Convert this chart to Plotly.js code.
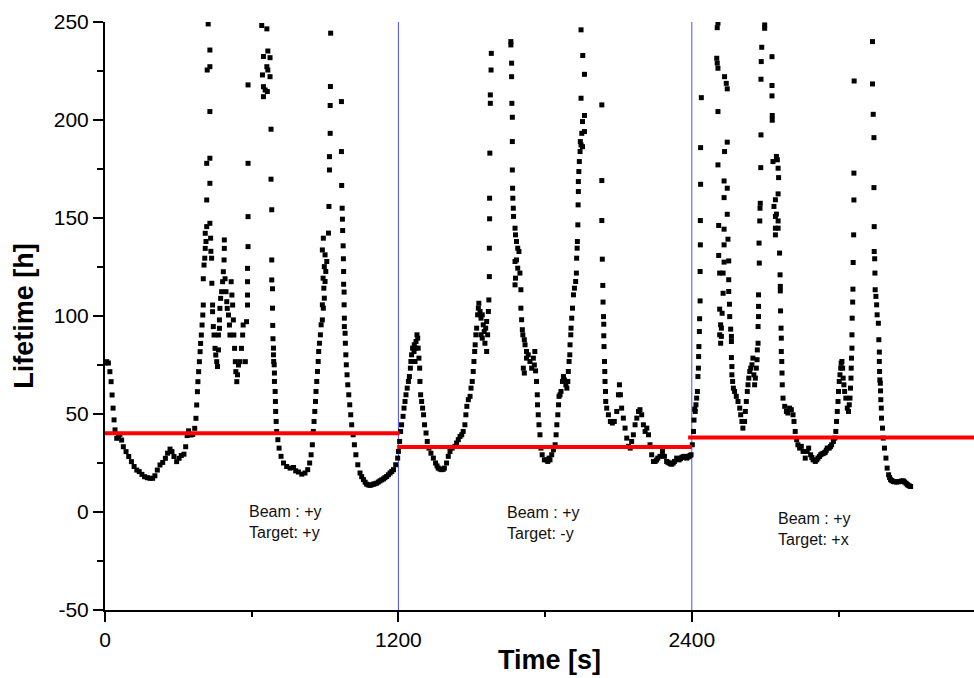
<!DOCTYPE html>
<html>
<head>
<meta charset="utf-8">
<script src="https://cdn.plot.ly/plotly-3.0.1.min.js"></script>
<style>html,body{margin:0;padding:0;background:#fff;overflow:hidden;width:974px;height:678px;}#chart{width:994px;height:678px;}</style>
</head>
<body>
<div id="chart"></div>
<script>
// ---- data: [time (s), lifetime (h)] ----
const periodA1 = [[0,76],[7,76.7],[14,76],[20,71.6],[25,66.5],[29,59.7],[33,53],[37,47],[41,41.9],[48,37.6],[55,39],[61,39.6],[68,36.7],[75,33.3],[86,30.8],[97,28.3],[108,25.7],[119,23.2],[130,21.4],[140,20.6],[151,19.2],[162,18],[173,17.5],[184,17.2],[195,17.2],[204,18.5],[214,21.4],[225,24],[236,25.3],[247,27.4],[256,30],[266,32.1],[274,30.8],[282,28.3],[293,25.7],[303,27.4],[312,28.8],[323,29.5],[330,33.3],[336,39],[342,41.4],[351,39.3],[359,39.6],[367,42.7],[372,47.8],[375,54.6],[378,61.4],[380,66.5],[383,71.6],[386,76.7],[389,81.8],[391,86],[394,90.3],[397,95.4],[400,100.5],[402,105.6],
[402,119],[405,126],[408,129.5],[410,134.5],[413,138],[410,142.2],[416,145.6],[429,147.3],[416,159.2],[429,167.7],[416,177.9],[429,180.5],[429,204.3],[418,225.5],[429,227.2],[429,235.7],[422,249],[432,139.7],[433,133],[436,129.5],[437,116.7],[440,105.6],[440,102.2],[443,94.6],[446,90.3],[450,83.5],[453,80.1],[457,76.7],[460,74.2],[464,82.7],[464,90.3],[468,93.7],[468,98],[470,103.9],[473,109],[477,112.4],[481,117.5],[484,122.6],[487,128.6],[488,134.5],[488,138.8],[491,119],[495,112.4],[498,107.3],[500,103.9],[505,100.5],[509,95.4],[511,90.3],[516,117.5],[519,110.7],[522,105.6],[525,98],[527,90.3],[530,83.5],[533,76.7],[535,71.6],[539,66.5],[542,70],[546,75],[552,76.7],[558,83.5],[563,90.3],[565,95.4],[574,76.7],[579,97.1],[583,105.6],[583,110.7],[583,117.5],[583,124.3],[585,135.4],[585,150.7],[585,177.9],[585,217.9]];

const periodA2 = [[641,248.2],[662,246.5],[666,235.2],[648,232.4],[675,231.8],[662,227.2],[666,225.5],[644,223],[675,222.1],[648,217],[655,215.3],[664,214.5],[648,211.9],[679,195.3],[679,169.8],[682,154.2],[682,128.6],[682,118.4],[685,113.9],[685,104],[686,95.2],[687,88.4],[689,83.6],[689,80.2],[690,76.8],[692,75.1],[693,70.9],[693,66.6],[696,61.5],[697,56.4],[698,51.3],[700,46.2],[702,41.1],[707,36.9],[712,32.6],[720,28.4],[730,25],[743,23.2],[757,22.4],[771,22.7],[780,21],[791,20.4],[805,19.3],[818,19.9],[829,21.6],[837,25],[843,29.2],[848,34.3],[852,41.1],[855,46.2],[858,51.3],[861,56.4],[863,61.5],[866,66.6],[869,71.7],[872,76.8],[874,81.9],[877,86.1],[881,90.4],[884,95.5],[889,98],[893,104],[889,105.7],[897,109.1],[895,114.2],[900,117.6],[892,119.3],[903,122.7],[897,125.2],[907,127.8],[900,131.2],[889,133.7],[893,139.7],[914,142.3],[916,155.9],[918,174.5],[918,181.3],[921,193.2],[921,207.4],[922,217.1],[923,244.3],
[967,209.4],[967,183.9],[968,166.6],[970,155],[971,149.4],[972,143.6],[974,135.8],[975,129.2],[976,122.7],[976,116.2],[978,112.2],[978,105.7],[979,98.9],[979,94.6],[982,91.2],[983,86.1],[985,80.2],[987,75.1],[990,70],[993,64.9],[997,59.8],[1001,54.7],[1005,49.6],[1009,44.5],[1015,39.4],[1020,34.3],[1026,29.2],[1034,24.1],[1043,19.9],[1050,18],[1057,16.5],[1064,15.2],[1070,14.2],[1077,13.8],[1084,13.6],[1091,13.9],[1098,14.2],[1104,14.4],[1111,14.7],[1118,15.3],[1125,15.9],[1132,16.4],[1139,16.9],[1145,17.5],[1152,18.1],[1159,19],[1166,19.9],[1173,20.7],[1180,21.6],[1189,24.1],[1197,27.5]];

const periodB1 = [[1200,30.9],[1205,36],[1209,41.1],[1213,44.5],[1219,48.8],[1223,53],[1227,56.4],[1231,59.8],[1236,63.2],[1241,66.6],[1245,69.1],[1249,73.4],[1251,76.8],[1254,80.2],[1258,83.6],[1264,81.9],[1265,85.3],[1268,76.8],[1271,83.6],[1272,87],[1276,90.4],[1279,88.7],[1281,83.6],[1284,78.5],[1287,73.4],[1288,66.6],[1291,59.8],[1295,56.4],[1299,53],[1303,49.6],[1307,44.5],[1313,40.3],[1318,36],[1325,32.6],[1333,30],[1343,27.5],[1352,25],[1358,23.5],[1363,22.4],[1370,21.9],[1377,21.6],[1383,21.8],[1388,22.4],[1397,25],[1404,28.4],[1411,30.9],[1420,32.6],[1431,33.5],[1438,35.2],[1445,36.9],[1452,38.5],[1459,39.4],[1465,41.1],[1472,44.5],[1476,49.6],[1480,53.9],[1486,57.3],[1493,59],[1497,63.2],[1502,66.6],[1506,71.7],[1509,76.8],[1512,81.9],[1514,85.3],[1517,90.4],[1520,93.8],[1524,100.6],[1527,104],[1529,106.5],[1534,102.3],[1538,98.9],[1543,100.6],[1547,95.5],[1551,92.1],[1538,90.4],[1543,88.7],[1554,86.1],[1561,81.9],[1557,93.8],[1565,90.4],[1561,97.2],[1568,102.3],[1570,108.2],[1572,120.1],[1572,134.6],[1573,149.6],[1573,160.1],[1574,183.1],[1576,208.5],[1576,212.8],[1579,225.5],[1580,234],
[1660,240],[1660,238.3],[1663,229],[1663,222.1],[1664,208.5],[1666,201.4],[1666,189],[1666,174.5],[1667,165.2],[1668,160.1],[1670,155],[1671,150.8],[1677,144.8],[1679,141.4],[1683,138],[1688,134.6],[1693,132.9],[1683,128.6],[1677,127.8],[1688,124.4],[1697,121.9],[1679,119.3],[1677,115.9],[1701,113.4],[1701,104],[1704,98.1],[1707,93],[1709,90.4],[1715,87.9],[1718,85.3],[1724,81.9],[1731,80.2],[1738,76.8],[1711,73.4],[1715,70.9],[1724,78.5],[1745,73.4],[1752,78.5],[1758,81.9],[1756,75],[1761,72],[1765,66.6],[1768,59.8],[1769,54.7],[1772,49.6],[1775,44.5],[1779,39.4],[1783,32.6],[1788,29.2],[1797,26.6],[1806,26.6],[1816,27.5]];

const periodB2 = [[1811,25.8],[1820,26.6],[1827,29.2],[1834,31.7],[1841,34.3],[1845,39.4],[1848,44.5],[1852,49.6],[1855,54.7],[1857,59],[1861,59.8],[1865,61.5],[1871,66.6],[1875,69.1],[1879,67.4],[1885,64.9],[1889,63.2],[1893,66.6],[1895,71.7],[1898,76.8],[1901,80.2],[1902,85.3],[1905,90.4],[1906,93.8],[1909,98.9],[1912,104],[1916,110.8],[1920,114.2],[1925,117.6],[1928,121.9],[1929,129.5],[1931,134.6],[1932,138],[1934,146.5],[1935,156.7],[1936,163.5],[1936,168.6],[1938,173.7],[1940,178.8],[1943,183.9],[1947,187.3],[1953,186.4],[1944,189],[1950,193.2],[1961,194.1],[1953,199.2],[1961,202.3],[1947,211.1],[1961,223.3],[1954,232.9],[1947,246],
[2032,207.7],[2032,169.1],[2032,148.7],[2034,129],[2036,115.6],[2037,107.1],[2039,99.7],[2040,95.8],[2040,89.9],[2041,84.4],[2043,76.8],[2044,71.7],[2045,66.6],[2047,61.5],[2048,56.4],[2052,53],[2059,49.6],[2067,46.2],[2075,45.4],[2083,46.2],[2093,51.3],[2100,59.8],[2104,64.9],[2108,59.8],[2113,53],[2120,47.9],[2127,42.8],[2134,37.7],[2141,33.5],[2148,32.6],[2154,36],[2161,39.4],[2168,44.5],[2175,47.9],[2182,51.3],[2188,52.2],[2195,49.6],[2202,44.5],[2209,41.1],[2216,42.8],[2223,39.4],[2229,34.3],[2236,29.2],[2243,25.8],[2250,25.8],[2256,26.5],[2261,27.5],[2270,28.4],[2280,30.9],[2288,28.4],[2297,25.8],[2302,25.4],[2307,25],[2313,24.6],[2318,24.4],[2324,25],[2329,25.8],[2338,27.5],[2343,27],[2348,26.6],[2354,27.2],[2359,27.9],[2365,28.2],[2370,28.4],[2375,27.8],[2379,27.5],[2384,28],[2389,28.4],[2393,28.8],[2397,29.2],[2402,34.3],[2407,41.1],[2409,46.9],[2412,52.5]];

const periodC1 = [[2414,51.3],[2417,54.7],[2420,58.1],[2423,61.5],[2425,69.1],[2427,73.4],[2428,79.3],[2429,84.4],[2431,92.1],[2432,98.6],[2434,107.7],[2434,122.7],[2435,136.3],[2435,148.7],[2436,167.2],[2436,185.9],[2439,211.4],
[2507,249.4],[2504,247.1],[2502,231.5],[2504,229],[2507,226.4],[2534,222.1],[2541,218.7],[2545,215.9],[2507,204.3],[2545,188.7],[2534,183.9],[2507,177.1],[2532,168.9],[2545,165.2],[2532,160.4],[2545,151.9],[2510,146.2],[2532,144.3],[2548,139.2],[2532,136.3],[2510,130.9],[2532,127.5],[2551,128.1],[2514,121.9],[2528,121.9],[2551,118.5],[2528,111.6],[2551,112.5],[2554,106],[2514,103.5],[2524,101.4],[2555,99.7],[2518,95.5],[2521,93.8],[2559,93.3],[2514,90.4],[2521,89.6],[2562,89.6],[2518,86.1],[2562,87],[2562,78.8],[2564,74.2],[2564,70],[2567,66.6],[2570,63.2],[2575,61.5],[2582,59],[2589,56.4],[2596,53],[2600,49.6],[2605,46.2],[2609,42.8],[2616,46.2],[2619,51.3],[2623,56.4],[2627,61.5],[2630,64.9],[2633,68.3],[2637,71.7],[2641,73.4],[2646,75.1],[2650,78.5],[2654,70],[2657,64.9],[2660,68.3],[2664,73.4],[2667,77.7],[2668,82.7],[2671,86.1],[2671,94.6],[2673,99.7],[2673,104.9],[2673,110.8],[2676,127],[2675,137.2],[2678,148.5],[2679,155],[2680,157.5],[2682,175.7],[2683,192.4],[2683,220.8],[2684,229.8],[2686,237.1],[2698,246.8],[2698,248.5]];

const periodC2 = [[2728,232.3],[2728,217.6],[2728,212.3],[2729,202.3],[2729,199.9],[2732,178.8],[2746,181.4],[2750,179.7],[2753,175.4],[2755,170.6],[2753,162.3],[2742,159.3],[2736,155.9],[2746,152],[2742,150.8],[2753,148.5],[2742,144.8],[2753,144.8],[2742,141.4],[2759,132.1],[2761,121],[2762,115.1],[2762,112.8],[2763,102.6],[2765,93.8],[2766,88.7],[2766,81.9],[2768,76.8],[2769,70.9],[2770,64.9],[2773,58.1],[2780,53.9],[2787,51.3],[2793,50.5],[2800,53],[2807,52.2],[2814,49.6],[2818,46.2],[2823,41.1],[2829,36.9],[2834,34.3],[2841,32.6],[2848,33.5],[2855,30.9],[2864,27.5],[2872,30.9],[2878,32.6],[2886,29.2],[2891,27.8],[2896,26.6],[2905,25.8],[2911,26.6],[2916,27.5],[2922,28.3],[2927,29.2],[2932,29.6],[2937,29.9],[2942,30.2],[2946,30.5],[2950,31.5],[2954,32.6],[2962,32.6],[2967,33.4],[2972,34.3],[2979,36],[2985,37.7],[2989,41.1],[2992,46.2],[2995,51.3],[2998,56.4],[3000,61.5],[3003,66.6],[3006,70],[3009,73.4],[3011,75.9],[3014,76.8],[3017,73.4],[3019,68.3],[3022,64.9],[3025,61.5],[3030,58.1],[3036,53],[3041,51.3],[3044,54.7],[3047,58.1],[3049,63.2],[3051,68.3],[3052,73.4],[3053,78.5],[3055,83.6],[3055,90.4],[3056,98.9],[3058,107.1],[3059,113.7],[3060,127.3],[3062,141.4],[3063,159.2],[3063,172.9],[3064,219.9],
[3139,240],[3139,218.4],[3142,202.9],[3145,191],[3145,165.5],[3146,145.6],[3146,132.9],[3148,129.2],[3149,121.9],[3150,113.4],[3153,110],[3156,105.7],[3158,100.6],[3163,96.3],[3165,87.9],[3167,81.6],[3167,76.8],[3168,71.7],[3169,67.4],[3171,65.7],[3172,61.8],[3173,57.3],[3175,53],[3176,47.9],[3180,42.8],[3183,37.7],[3188,32.6],[3194,27.5],[3199,22.4],[3205,19],[3209,17.6],[3213,16.5],[3218,16],[3224,15.6],[3230,15.4],[3237,15.3],[3244,15.4],[3251,15.6],[3258,15.8],[3265,15.9],[3270,15.3],[3276,14.7],[3281,14.1],[3285,13.6],[3290,13.3],[3295,13]];

// mean lifetime per configuration (red lines)
const segStart = [0, 1195, 2385];
const segEnd   = [1205, 2400, 3636];
const segLevel = [40.2, 33.1, 38];
// configuration changes (blue lines)
const dividers = [1200, 2400];
// tick labels
const xTickVals = [0, 1200, 2400, 3600];
const xTickText = ['0', '1200', '2400', '3600'];
const yTickVals = [-50, 0, 50, 100, 150, 200, 250];
const yTickText = ['-50', '0', '50', '100', '150', '200', '250'];
// configuration labels
const configLabels = ["Beam : +y<br>Target: +y", "Beam : +y<br>Target: -y", "Beam : +y<br>Target: +x"];
const labelX = [581, 1636, 2744];
const labelY = [-5, -5.6, -8.7];

const allPts = [].concat(periodA1, periodA2, periodB1, periodB2, periodC1, periodC2);
const FONT = "Arial, 'Liberation Sans', sans-serif";

const traces = [{
  x: allPts.map(p => p[0]), y: allPts.map(p => p[1]),
  type: 'scatter', mode: 'markers', cliponaxis: true,
  marker: {symbol: 'square', size: 5, color: '#000', line: {width: 0}},
  hoverinfo: 'x+y', showlegend: false
}];
for (let i = 0; i < segStart.length; i++) {
  traces.push({
    x: [segStart[i], segEnd[i]], y: [segLevel[i], segLevel[i]],
    type: 'scatter', mode: 'lines', line: {color: '#ff0000', width: 4},
    showlegend: false, hoverinfo: 'skip'
  });
}

const layout = {
  width: 994, height: 678,
  margin: {l: 105, r: 0, t: 22, b: 68, pad: 0},
  paper_bgcolor: '#ffffff', plot_bgcolor: '#ffffff',
  font: {family: FONT, color: '#000'},
  showlegend: false,
  xaxis: {
    range: [0, 3636], tickmode: 'array', tickvals: xTickVals, ticktext: xTickText,
    showgrid: false, zeroline: false,
    showline: true, linecolor: '#000', linewidth: 2, mirror: false,
    ticks: 'outside', ticklen: 10, tickwidth: 2, tickcolor: '#000',
    minor: {dtick: 600, tick0: 0, ticks: 'outside', ticklen: 5, tickwidth: 2, tickcolor: '#000', showgrid: false},
    tickfont: {size: 21, family: FONT},
    title: {text: 'Time [s]', font: {size: 27, family: FONT, weight: 'bold'}, standoff: 0},
    automargin: false
  },
  yaxis: {
    range: [-50, 250], tickmode: 'array', tickvals: yTickVals, ticktext: yTickText,
    showgrid: false, zeroline: false,
    showline: true, linecolor: '#000', linewidth: 2, mirror: false,
    ticks: 'outside', ticklen: 10, tickwidth: 2, tickcolor: '#000',
    minor: {dtick: 25, tick0: 0, ticks: 'outside', ticklen: 6, tickwidth: 2, tickcolor: '#000', showgrid: false},
    tickfont: {size: 21, family: FONT},
    title: {text: 'Lifetime [h]', font: {size: 27, family: FONT, weight: 'bold'}, standoff: 12},
    automargin: false
  },
  shapes: dividers.map(d => ({
    type: 'line', xref: 'x', yref: 'paper', x0: d, x1: d, y0: 0, y1: 1,
    line: {color: '#4d4dff', width: 1}, layer: 'below'
  })),
  annotations: configLabels.map((t, i) => ({
    text: t, x: labelX[i], y: labelY[i], xref: 'x', yref: 'y',
    xanchor: 'left', yanchor: 'middle', align: 'left', showarrow: false,
    font: {size: 16, family: FONT, color: '#111'}
  }))
};

Plotly.newPlot('chart', traces, layout, {displayModeBar: false, staticPlot: true});
</script>
</body>
</html>
